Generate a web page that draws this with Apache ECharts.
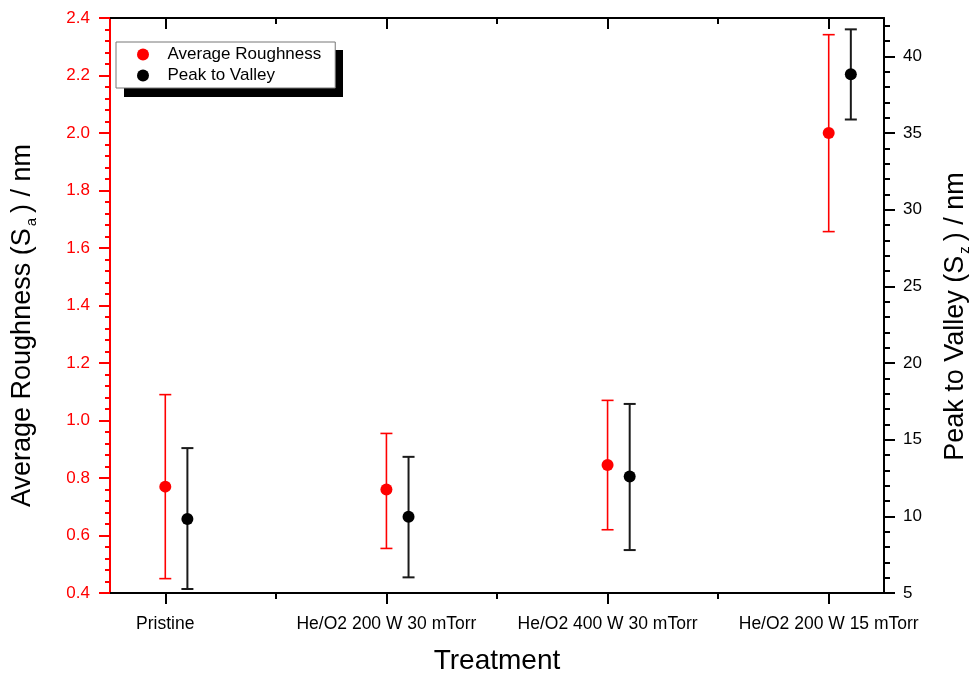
<!DOCTYPE html>
<html>
<head>
<meta charset="utf-8">
<script src="https://cdn.jsdelivr.net/npm/echarts@6/dist/echarts.min.js"></script>
<style>
html,body{margin:0;padding:0;background:#fff;}
#chart{width:974px;height:675px;}
</style>
</head>
<body>
<div id="chart"></div>
<script>
// ---- data ----
const categories = ['Pristine', 'He/O2 200 W 30 mTorr', 'He/O2 400 W 30 mTorr', 'He/O2 200 W 15 mTorr'];
const saValues = [0.77, 0.76, 0.845, 2.0];
const saLow    = [0.45, 0.555, 0.62, 1.657];
const saHigh   = [1.09, 0.955, 1.07, 2.342];
const szValues = [9.82, 9.97, 12.6, 38.83];
const szLow    = [5.26, 6.02, 7.8, 35.88];
const szHigh   = [14.45, 13.88, 17.33, 41.76];
const leftTicks = [0.4, 0.6, 0.8, 1.0, 1.2, 1.4, 1.6, 1.8, 2.0, 2.2, 2.4];
const rightTicks = [5, 10, 15, 20, 25, 30, 35, 40];

// ---- build ----
const FONT = '"Liberation Sans", Arial, sans-serif';
const RED = '#ff0000';
const BLK = '#000000';
const SZ_SHIFT = 0.1;
const catIdx = categories.map((c, i) => i);
const halfIdx = catIdx.slice(0, -1).map(i => i + 0.5);
const rightMinor = [];
for (let v = 5; v <= 42; v++) if (v % 5 !== 0) rightMinor.push(v);

const saPts = catIdx.map(i => [i, saValues[i]]);
const szPts = catIdx.map(i => [i + SZ_SHIFT, szValues[i]]);
const saErr = catIdx.map(i => [i, saValues[i], saLow[i], saHigh[i]]);
const szErr = catIdx.map(i => [i + SZ_SHIFT, szValues[i], szLow[i], szHigh[i]]);

function errRender(color, lw) {
  return function (params, api) {
    const x = api.value(0), lo = api.value(2), hi = api.value(3);
    const pH = api.coord([x, hi]);
    const pL = api.coord([x, lo]);
    const hw = 6;
    const st = { stroke: color, lineWidth: lw };
    return {
      type: 'group',
      children: [
        { type: 'line', shape: { x1: pH[0], y1: pH[1], x2: pL[0], y2: pL[1] }, style: st },
        { type: 'line', shape: { x1: pH[0] - hw, y1: pH[1], x2: pH[0] + hw, y2: pH[1] }, style: st },
        { type: 'line', shape: { x1: pL[0] - hw, y1: pL[1], x2: pL[0] + hw, y2: pL[1] }, style: st }
      ]
    };
  };
}

const xBase = { type: 'value', min: -0.25, max: 3.25, splitLine: { show: false } };
const blackLine = { color: BLK, width: 2 };
const subStyle = { fontSize: 15, fontFamily: FONT, color: BLK, verticalAlign: 'bottom', lineHeight: 15, padding: [0, 5, 0, 2] };

const option = {
  animation: false,
  backgroundColor: '#fff',
  textStyle: { fontFamily: FONT },
  grid: { left: 110, right: 90, top: 18, bottom: 82, containLabel: false, outerBoundsMode: 'none' },
  graphic: [{
    type: 'rect', left: 124, top: 50, z: 1,
    shape: { width: 219, height: 47 },
    style: { fill: '#000' }
  }],
  legend: {
    data: ['Average Roughness', 'Peak to Valley'],
    orient: 'vertical', left: 116, top: 42, z: 10,
    backgroundColor: '#fff', borderColor: '#777', borderWidth: 1,
    padding: [4, 14, 4, 21],
    itemWidth: 39, itemHeight: 12, itemGap: 4,
    icon: 'circle',
    textStyle: { fontFamily: FONT, fontSize: 17, color: BLK }
  },
  xAxis: [
    Object.assign({}, xBase, {
      position: 'bottom',
      axisLine: { show: true, onZero: false, lineStyle: blackLine },
      axisTick: { show: true, customValues: catIdx, length: 11, inside: false, lineStyle: blackLine },
      axisLabel: { customValues: catIdx, formatter: v => categories[Math.round(v)], margin: 22,
                   fontSize: 17.5, color: BLK, fontFamily: FONT },
      name: 'Treatment', nameLocation: 'middle', nameGap: 54,
      nameTextStyle: { fontSize: 28, color: BLK, fontFamily: FONT }
    }),
    Object.assign({}, xBase, {
      position: 'bottom',
      axisLine: { show: false, onZero: false },
      axisTick: { show: true, customValues: halfIdx, length: 6, inside: false, lineStyle: blackLine },
      axisLabel: { show: false }
    }),
    Object.assign({}, xBase, {
      position: 'top',
      axisLine: { show: true, onZero: false, lineStyle: blackLine },
      axisTick: { show: true, customValues: catIdx, length: 11, inside: true, lineStyle: blackLine },
      axisLabel: { show: false }
    }),
    Object.assign({}, xBase, {
      position: 'top',
      axisLine: { show: false, onZero: false },
      axisTick: { show: true, customValues: halfIdx, length: 6, inside: true, lineStyle: blackLine },
      axisLabel: { show: false }
    })
  ],
  yAxis: [
    {
      type: 'value', position: 'left', min: 0.4, max: 2.4, interval: 0.2,
      splitLine: { show: false },
      axisLine: { show: true, onZero: false, lineStyle: { color: RED, width: 2 } },
      axisTick: { show: true, length: 11, inside: false, lineStyle: { color: RED, width: 2 } },
      minorTick: { show: true, splitNumber: 5, length: 5, lineStyle: { color: RED, width: 2 } },
      axisLabel: { color: RED, fontSize: 17, margin: 20, fontFamily: FONT,
                   customValues: leftTicks, formatter: v => Number(v).toFixed(1) },
      name: 'Average Roughness (S{sub|a}) / nm', nameLocation: 'middle', nameRotate: 90, nameGap: 71,
      nameTextStyle: { fontSize: 27, color: BLK, fontFamily: FONT, lineHeight: 32,
        padding: [0, 40, 0, 0], rich: { sub: subStyle } }
    },
    {
      type: 'value', position: 'right', min: 5, max: 42.5,
      splitLine: { show: false },
      axisLine: { show: true, onZero: false, lineStyle: blackLine },
      axisTick: { show: true, customValues: rightTicks, length: 11, inside: false, lineStyle: blackLine },
      axisLabel: { customValues: rightTicks, color: BLK, fontSize: 17, margin: 19, fontFamily: FONT },
      name: 'Peak to Valley (S{sub|z}) / nm', nameLocation: 'middle', nameRotate: 90, nameGap: 56,
      nameTextStyle: { fontSize: 27, color: BLK, fontFamily: FONT, lineHeight: 32,
        padding: [0, 22, 0, 0], rich: { sub: subStyle } }
    },
    {
      type: 'value', position: 'right', min: 5, max: 42.5,
      splitLine: { show: false },
      axisLine: { show: false, onZero: false },
      axisTick: { show: true, customValues: rightMinor, length: 6, inside: false, lineStyle: blackLine },
      axisLabel: { show: false }
    }
  ],
  series: [
    { type: 'custom', name: 'saErr', xAxisIndex: 0, yAxisIndex: 0, z: 2,
      renderItem: errRender(RED, 1.6), data: saErr, encode: { x: 0, y: 1 } },
    { type: 'custom', name: 'szErr', xAxisIndex: 0, yAxisIndex: 1, z: 2,
      renderItem: errRender('#1a1a1a', 2), data: szErr, encode: { x: 0, y: 1 } },
    { type: 'scatter', name: 'Average Roughness', xAxisIndex: 0, yAxisIndex: 0, z: 3,
      symbol: 'circle', symbolSize: 12, itemStyle: { color: RED, opacity: 1 }, data: saPts },
    { type: 'scatter', name: 'Peak to Valley', xAxisIndex: 0, yAxisIndex: 1, z: 3,
      symbol: 'circle', symbolSize: 12, itemStyle: { color: BLK, opacity: 1 }, data: szPts }
  ]
};

const chart = echarts.init(document.getElementById('chart'), null, { renderer: 'canvas' });
chart.setOption(option);
</script>
</body>
</html>
